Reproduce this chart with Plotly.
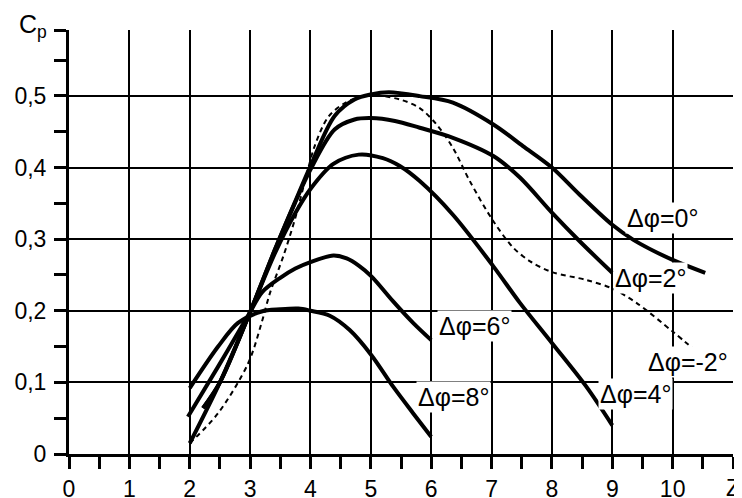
import plotly.graph_objects as go

# ---- data ----
Z_0 = [2.22, 2.5, 2.97, 3.41, 3.74, 4.0, 4.4, 4.73, 5.0, 5.3, 5.81, 6.36, 7.03, 7.52, 8.0,
       8.46, 9.0, 9.35, 10.0, 10.54]
CP_0 = [0.064, 0.10, 0.192, 0.285, 0.351, 0.402, 0.472, 0.495, 0.502, 0.505, 0.4997, 0.4905,
        0.460, 0.430, 0.400, 0.362, 0.320, 0.299, 0.271, 0.253]

Z_2 = [2.22, 2.5, 2.97, 3.41, 3.74, 4.0, 4.4, 4.73, 5.0, 5.4, 5.81, 6.36, 7.03, 7.47, 8.0,
       8.46, 9.0]
CP_2 = [0.064, 0.10, 0.192, 0.285, 0.35, 0.397, 0.453, 0.467, 0.469, 0.465, 0.4555, 0.4415,
        0.416, 0.386, 0.337, 0.297, 0.253]

Z_4 = [2.0, 2.5, 2.97, 3.41, 3.74, 4.0, 4.38, 4.8, 5.2, 5.48, 5.81, 6.36, 7.03, 7.47, 8.0,
       8.57, 9.0]
CP_4 = [0.015, 0.10, 0.192, 0.28, 0.335, 0.37, 0.405, 0.418, 0.413, 0.402, 0.381, 0.334,
        0.262, 0.211, 0.155, 0.094, 0.04]

Z_6 = [1.97, 2.47, 2.86, 3.0, 3.2, 3.5, 3.75, 4.0, 4.38, 4.6, 4.8, 5.01, 5.37, 5.7, 6.0]
CP_6 = [0.052, 0.122, 0.178, 0.198, 0.226, 0.246, 0.259, 0.268, 0.277, 0.273, 0.263, 0.248,
        0.213, 0.183, 0.159]

Z_8 = [2.0, 2.47, 2.8, 3.19, 3.5, 3.8, 4.0, 4.32, 4.65, 5.01, 5.37, 5.7, 6.0]
CP_8 = [0.092, 0.15, 0.183, 0.199, 0.202, 0.203, 0.2, 0.193, 0.173, 0.138, 0.094, 0.057, 0.024]

Z_M2 = [2.0, 2.47, 2.97, 3.19, 3.33, 3.55, 3.75, 3.93, 4.07, 4.29, 4.57, 4.95, 5.48, 5.81,
        6.09, 6.36, 6.64, 7.03, 7.36, 7.64, 8.0, 8.57, 9.0, 9.4, 10.0, 10.37]
CP_M2 = [0.015, 0.057, 0.127, 0.183, 0.225, 0.276, 0.33, 0.388, 0.43, 0.47, 0.49, 0.501,
         0.495, 0.483, 0.46, 0.4275, 0.381, 0.325, 0.288, 0.269, 0.254, 0.243, 0.231, 0.211,
         0.171, 0.145]

X_TICKS = [0, 1, 2, 3, 4, 5, 6, 7, 8, 9, 10, 11]
X_LABELS = ["0", "1", "2", "3", "4", "5", "6", "7", "8", "9", "10", ""]
X_NAME = "Z"
Y_TICKS = [0, 0.1, 0.2, 0.3, 0.4, 0.5, 0.592]
Y_LABELS = ["0", "0,1", "0,2", "0,3", "0,4", "0,5", ""]
Y_NAME = "C<sub>p</sub>"

LABELS = ["Δφ=0°", "Δφ=2°", "Δφ=6°", "Δφ=-2°", "Δφ=8°", "Δφ=4°"]
LABEL_X = [9.84, 9.63, 6.71, 10.25, 6.37, 9.39]
LABEL_Y = [0.330, 0.246, 0.179, 0.129, 0.080, 0.084]

FONT = "Liberation Sans, Arial, sans-serif"

fig = go.Figure()
solid = [(Z_0, CP_0), (Z_2, CP_2), (Z_4, CP_4), (Z_6, CP_6), (Z_8, CP_8)]
for zx, cy in solid:
    fig.add_trace(go.Scatter(x=zx, y=cy, mode="lines",
                             line=dict(color="black", width=4, shape="spline", smoothing=0.9),
                             showlegend=False, hoverinfo="skip"))
fig.add_trace(go.Scatter(x=Z_M2, y=CP_M2, mode="lines",
                         line=dict(color="black", width=2, dash="5px,4px", shape="spline",
                                   smoothing=0.9),
                         showlegend=False, hoverinfo="skip"))

for t, ax_, ay_ in zip(LABELS, LABEL_X, LABEL_Y):
    fig.add_annotation(x=ax_, y=ay_, text=t, showarrow=False,
                       font=dict(family=FONT, size=25, color="black"),
                       bgcolor="white", borderpad=1, xanchor="center", yanchor="middle")

# axis name "Cp" beside the top tick
fig.add_annotation(xref="paper", x=0, y=Y_TICKS[-1], yref="y", text=Y_NAME, showarrow=False,
                   xanchor="right", yanchor="middle", xshift=-20, yshift=4,
                   font=dict(family=FONT, size=25, color="black"))
# axis name "Z" under the last x tick, kept inside the page
fig.add_annotation(xref="paper", x=1, yref="paper", y=0, text=X_NAME, showarrow=False,
                   xanchor="right", yanchor="middle", xshift=9, yshift=-34,
                   font=dict(family=FONT, size=23, color="black"))

# the page body has an 8px margin, so the figure is 8px smaller and margins shifted
fig.update_layout(
    width=734, height=490,
    margin=dict(l=61, r=9, t=22, b=44),
    paper_bgcolor="white", plot_bgcolor="white",
    font=dict(family=FONT, size=23, color="black"),
    showlegend=False,
)
fig.update_xaxes(range=[0, 11], tickmode="array", tickvals=X_TICKS, ticktext=X_LABELS,
                 automargin=False,
                 showgrid=True, gridcolor="black", gridwidth=1.6, zeroline=False,
                 showline=True, linecolor="black", linewidth=3,
                 ticks="outside", ticklen=12, tickwidth=2.5, tickcolor="black",
                 minor=dict(tickmode="linear", tick0=0, dtick=0.5, ticks="outside",
                            ticklen=12, tickwidth=2.5, tickcolor="black", showgrid=False),
                 tickfont=dict(family=FONT, size=23, color="black"))
fig.update_yaxes(range=[0, 0.592], tickmode="array", tickvals=Y_TICKS, ticktext=Y_LABELS,
                 automargin=False,
                 showgrid=True, gridcolor="black", gridwidth=1.6, zeroline=False,
                 showline=True, linecolor="black", linewidth=3,
                 ticks="outside", ticklen=12, tickwidth=2.5, tickcolor="black",
                 ticklabelstandoff=3,
                 minor=dict(tickmode="linear", tick0=0, dtick=0.05, ticks="outside",
                            ticklen=12, tickwidth=2.5, tickcolor="black", showgrid=False),
                 tickfont=dict(family=FONT, size=23, color="black"))

fig.write_html("out.html")
